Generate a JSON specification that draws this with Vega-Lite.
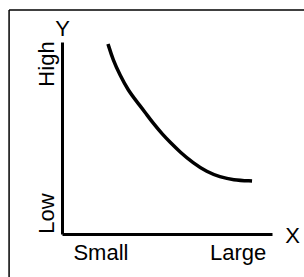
{
  "$schema": "https://vega.github.io/schema/vega-lite/v6.json",
  "width": 210,
  "height": 192,
  "autosize": {"type": "none"},
  "padding": {"left": 62, "top": 42, "right": 32, "bottom": 43},
  "background": "white",
  "config": {
    "view": {"stroke": null},
    "font": "Liberation Sans"
  },
  "data": {
    "values": [
      {"kind": "curve", "x": 2.19, "y": 9.9},
      {"kind": "curve", "x": 2.43, "y": 9.06},
      {"kind": "curve", "x": 2.76, "y": 8.28},
      {"kind": "curve", "x": 3.14, "y": 7.5},
      {"kind": "curve", "x": 3.57, "y": 6.88},
      {"kind": "curve", "x": 3.95, "y": 6.35},
      {"kind": "curve", "x": 4.33, "y": 5.78},
      {"kind": "curve", "x": 4.81, "y": 5.16},
      {"kind": "curve", "x": 5.14, "y": 4.79},
      {"kind": "curve", "x": 5.62, "y": 4.27},
      {"kind": "curve", "x": 6.24, "y": 3.7},
      {"kind": "curve", "x": 6.9, "y": 3.23},
      {"kind": "curve", "x": 7.52, "y": 2.97},
      {"kind": "curve", "x": 8.14, "y": 2.81},
      {"kind": "curve", "x": 9.05, "y": 2.76},
      {"kind": "frame", "x": -2.52, "y": 11.67, "x2": 11.6, "y2": 11.67},
      {"kind": "frame", "x": -2.52, "y": 11.67, "x2": -2.52, "y2": -2.3}
    ]
  },
  "encoding": {
    "x": {
      "field": "x",
      "type": "quantitative",
      "scale": {"domain": [0, 10], "nice": false, "zero": false},
      "axis": {
        "title": "X",
        "titleAngle": 0,
        "titleX": 230,
        "titleY": 8,
        "titleAlign": "center",
        "titleBaseline": "alphabetic",
        "titleFontSize": 22,
        "titleFontWeight": "normal",
        "titleColor": "black",
        "domainColor": "black",
        "domainWidth": 3,
        "ticks": false,
        "tickSize": 0,
        "grid": false,
        "values": [1.83, 8.36],
        "labelExpr": "datum.value < 5 ? 'Small' : 'Large'",
        "labelFontSize": 22,
        "labelColor": "black",
        "labelPadding": 25,
        "labelBaseline": "alphabetic",
        "labelAlign": "center",
        "labelOverlap": false,
        "labelFlush": false
      }
    },
    "y": {
      "field": "y",
      "type": "quantitative",
      "scale": {"domain": [0, 10], "nice": false, "zero": false},
      "axis": {
        "title": "Y",
        "titleAngle": 0,
        "titleX": 0,
        "titleY": -7,
        "titleAlign": "center",
        "titleBaseline": "alphabetic",
        "titleFontSize": 22,
        "titleFontWeight": "normal",
        "titleColor": "black",
        "domainColor": "black",
        "domainWidth": 3,
        "ticks": false,
        "tickSize": 0,
        "grid": false,
        "values": [1.09, 8.88],
        "labelExpr": "datum.value < 5 ? 'Low' : 'High'",
        "labelAngle": -90,
        "labelFontSize": 22,
        "labelColor": "black",
        "labelPadding": 9,
        "labelBaseline": "alphabetic",
        "labelAlign": "center",
        "labelOverlap": false,
        "labelFlush": false
      }
    }
  },
  "layer": [
    {
      "transform": [{"filter": "datum.kind == 'curve'"}],
      "mark": {"type": "line", "color": "black", "strokeWidth": 3.5, "interpolate": "basis"}
    },
    {
      "transform": [{"filter": "datum.kind == 'frame'"}],
      "mark": {"type": "rule", "color": "black", "strokeWidth": 1.5},
      "encoding": {
        "x2": {"field": "x2"},
        "y2": {"field": "y2"}
      }
    }
  ]
}
